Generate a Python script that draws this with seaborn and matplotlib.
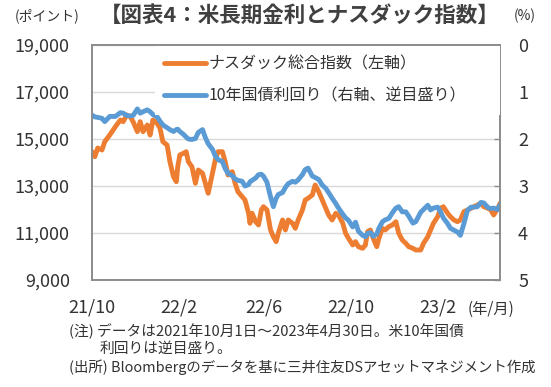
# %% Setup

import pandas as pd
import matplotlib
matplotlib.use("Agg")
import matplotlib.pyplot as plt
from matplotlib.ticker import FuncFormatter
import seaborn as sns

sns.set_theme(style="white")
plt.rcParams["font.family"] = ["Noto Sans CJK JP", "DejaVu Sans"]

# Values (roughly every 4-6 days)
dates = [
    "2021-10-01", "2021-10-05", "2021-10-09", "2021-10-15", "2021-10-19", "2021-10-26",
    "2021-11-03", "2021-11-10", "2021-11-14", "2021-11-19", "2021-11-24", "2021-11-28",
    "2021-12-04", "2021-12-08", "2021-12-12", "2021-12-18", "2021-12-22", "2021-12-26",
    "2022-01-01", "2022-01-05", "2022-01-09", "2022-01-15", "2022-01-19", "2022-01-24", "2022-01-28", "2022-01-30",
    "2022-02-02", "2022-02-07", "2022-02-11", "2022-02-14", "2022-02-19", "2022-02-24", "2022-02-28",
    "2022-03-06", "2022-03-10", "2022-03-14", "2022-03-20", "2022-03-24", "2022-03-28",
    "2022-04-03", "2022-04-07", "2022-04-11", "2022-04-17", "2022-04-21", "2022-04-25",
    "2022-05-01", "2022-05-05", "2022-05-10", "2022-05-12", "2022-05-15", "2022-05-20", "2022-05-24", "2022-05-28", "2022-05-31",
    "2022-06-05", "2022-06-10", "2022-06-14", "2022-06-18", "2022-06-21", "2022-06-27",
    "2022-07-01", "2022-07-05", "2022-07-11", "2022-07-15", "2022-07-19", "2022-07-25", "2022-07-29",
    "2022-08-02", "2022-08-08", "2022-08-12", "2022-08-17", "2022-08-22", "2022-08-27", "2022-08-31",
    "2022-09-05", "2022-09-10", "2022-09-14", "2022-09-20", "2022-09-24", "2022-09-28",
    "2022-10-04", "2022-10-08", "2022-10-12", "2022-10-18", "2022-10-22", "2022-10-25", "2022-10-29",
    "2022-11-02", "2022-11-07", "2022-11-10", "2022-11-15", "2022-11-19", "2022-11-24", "2022-11-29",
    "2022-12-04", "2022-12-08", "2022-12-13", "2022-12-18", "2022-12-22", "2022-12-28",
    "2023-01-01", "2023-01-08", "2023-01-12", "2023-01-18", "2023-01-22", "2023-01-26",
    "2023-02-01", "2023-02-05", "2023-02-09", "2023-02-15", "2023-02-19", "2023-02-24",
    "2023-03-01", "2023-03-05", "2023-03-10", "2023-03-15", "2023-03-20", "2023-03-24", "2023-03-29",
    "2023-04-03", "2023-04-07", "2023-04-13", "2023-04-17", "2023-04-21", "2023-04-27", "2023-04-30",
]

nasdaq = [
    14460, 14247, 14617, 14530, 14886, 15170,
    15524, 15809, 15737, 16021, 15950, 15737,
    15311, 15737, 15311, 15596, 15170, 15809,
    15667, 15454, 14886, 14743, 14034, 13396, 13183, 13822,
    14320, 14392, 14460, 14034, 13822, 13115, 13681,
    13541, 13115, 12690, 13541, 14107, 14460,
    14460, 14034, 13468, 13609, 13115, 12758,
    12545, 12405, 11838, 11413, 11838, 11481, 11341, 11979, 12120,
    11979, 11128, 10843, 10631, 10988, 11554,
    11128, 11554, 11413, 11200, 11554, 11979, 12405,
    12477, 12617, 13043, 12758, 12405, 12050, 11767,
    11554, 11838, 11767, 11413, 10988, 10775,
    10490, 10631, 10418, 10348, 10490, 11056, 11128,
    10775, 10418, 10775, 11200, 11128, 11270, 11341,
    11481, 10988, 10703, 10561, 10418, 10348,
    10277, 10277, 10561, 10843, 11128, 11413,
    11694, 12050, 12120, 11838, 11694, 11554,
    11481, 11554, 11909, 11979, 12050, 12120, 12190,
    12265, 12120, 12050, 11979, 11767, 12050, 12265,
]

yield_10y = [
    1.49, 1.53, 1.54, 1.56, 1.63, 1.52,
    1.52, 1.44, 1.45, 1.50, 1.51, 1.50,
    1.36, 1.45, 1.42, 1.38, 1.42, 1.48,
    1.53, 1.62, 1.70, 1.76, 1.80, 1.84, 1.80, 1.79,
    1.84, 1.90, 1.96, 2.00, 2.01, 1.99, 1.86,
    1.80, 1.97, 2.10, 2.22, 2.36, 2.44,
    2.48, 2.63, 2.73, 2.78, 2.85, 2.88,
    2.90, 3.00, 2.97, 2.91, 2.88, 2.83, 2.76, 2.75, 2.79,
    2.92, 3.23, 3.44, 3.26, 3.18, 3.14,
    3.03, 2.95, 2.90, 2.92, 2.87, 2.76, 2.65,
    2.62, 2.79, 2.82, 2.86, 2.98, 3.05, 3.14,
    3.26, 3.37, 3.47, 3.60, 3.68, 3.73,
    3.87, 3.77, 3.96, 4.05, 4.08, 4.01, 3.99,
    4.07, 4.02, 3.90, 3.76, 3.72, 3.69, 3.57,
    3.47, 3.44, 3.55, 3.55, 3.64, 3.79,
    3.76, 3.56, 3.50, 3.41, 3.51, 3.47,
    3.45, 3.55, 3.68, 3.80, 3.90, 3.94,
    3.98, 4.05, 3.80, 3.52, 3.45, 3.45, 3.44,
    3.35, 3.36, 3.46, 3.48, 3.47, 3.50, 3.40,
]

tick_dates = ["2021-10-01", "2022-02-01", "2022-06-01", "2022-10-01", "2023-02-01"]
tick_labels = ["21/10", "22/2", "22/6", "22/10", "23/2"]
left_ticks = [9000, 11000, 13000, 15000, 17000, 19000]
right_ticks = [0, 1, 2, 3, 4, 5]

label_nasdaq = "ナスダック総合指数（左軸）"
label_yield = "10年国債利回り（右軸、逆目盛り）"

df = pd.DataFrame({
    "date": pd.to_datetime(dates),
    "nasdaq": nasdaq,
    "yield": yield_10y,
})

# %% Plot

text_color = "#333333"
spine_color = "#8C8C8C"

fig = plt.figure(figsize=(5.51, 3.87), dpi=100)
ax = fig.add_axes([0.167, 0.2765, 0.7405, 0.6072])
ax2 = ax.twinx()

sns.lineplot(data=df, x="date", y="nasdaq", ax=ax, color="#ED7D31",
             linewidth=3.5, label=label_nasdaq)
sns.lineplot(data=df, x="date", y="yield", ax=ax2, color="#5B9BD5",
             linewidth=3.5, label=label_yield)
ax.get_legend().remove()
ax2.get_legend().remove()

# Left axis (index)
ax.set_ylim(9000, 19000)
ax.set_yticks(left_ticks)
ax.yaxis.set_major_formatter(FuncFormatter(lambda v, p: f"{v:,.0f}"))
ax.grid(axis="y", color="#D9D9D9", linewidth=1.0)
ax.set_axisbelow(True)

# Right axis (yield, inverted)
ax2.set_ylim(5, 0)
ax2.set_yticks(right_ticks)

# Date axis
ax.set_xlim(pd.Timestamp("2021-10-01"), pd.Timestamp("2023-04-30"))
ax.set_xticks(pd.to_datetime(tick_dates))
ax.set_xticklabels(tick_labels)

ax.tick_params(axis="x", direction="in", length=5, width=1, color=spine_color,
               pad=13, labelsize=13, labelcolor=text_color)
ax.tick_params(axis="y", length=0, pad=16, labelsize=13, labelcolor=text_color)
ax2.tick_params(axis="y", direction="in", length=4, width=1, color=spine_color,
                pad=13, labelsize=13, labelcolor=text_color)

for a in (ax, ax2):
    a.set_xlabel("")
    a.set_ylabel("")
    for s in a.spines.values():
        s.set_color(spine_color)
        s.set_linewidth(1.2)

# Legend
handles = [ax.lines[0], ax2.lines[0]]
ax2.legend(handles, [label_nasdaq, label_yield], loc="upper left",
           bbox_to_anchor=(0.154, 0.0, 0.846, 0.995), mode="expand",
           frameon=True, fancybox=False, framealpha=1, edgecolor="none",
           facecolor="white", fontsize=11.5, handlelength=2.6,
           handletextpad=0.15, labelspacing=0.95, borderpad=0.6,
           borderaxespad=0, labelcolor=text_color)

# Title and annotations
fig.text(0.544, 0.959, "【図表4：米長期金利とナスダック指数】", ha="center", va="center",
         fontsize=15.5, fontweight="bold", color="#404040")
fig.text(0.085, 0.959, "(ポイント)", ha="center", va="center", fontsize=10, color=text_color)
fig.text(0.953, 0.959, "(%)", ha="center", va="center", fontsize=10, color=text_color)
fig.text(0.891, 0.2016, "(年/月)", ha="center", va="center", fontsize=11, color=text_color)

fig.text(0.125, 0.1447, "(注) データは2021年10月1日～2023年4月30日。米10年国債",
         ha="left", va="center", fontsize=10.6, color=text_color)
fig.text(0.1815, 0.098, "利回りは逆目盛り。", ha="left", va="center", fontsize=10.6, color=text_color)
fig.text(0.125, 0.0517, "(出所) Bloombergのデータを基に三井住友DSアセットマネジメント作成",
         ha="left", va="center", fontsize=10.4, color=text_color)

fig.savefig("out.png", dpi=100)
